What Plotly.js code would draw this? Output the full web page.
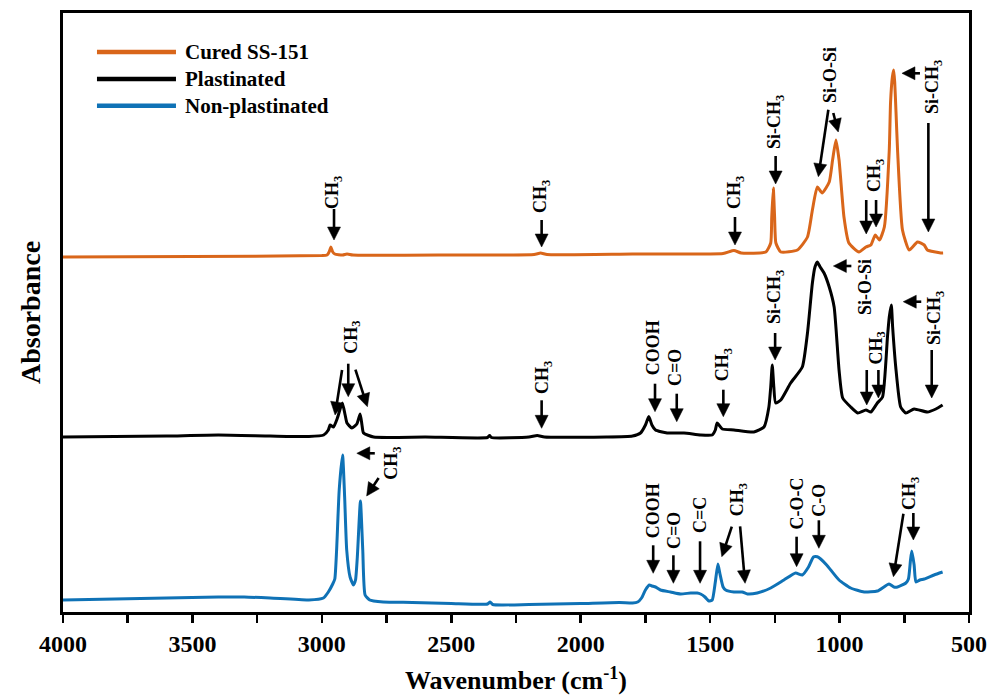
<!DOCTYPE html>
<html><head><meta charset="utf-8">
<script src="https://cdn.plot.ly/plotly-3.0.1.min.js"></script>
<style>html,body{margin:0;padding:0;background:#fff}#chart{width:988px;height:697px}</style>
</head><body><div id="chart"></div>
<script>
const seriesNames = ['Cured SS-151', 'Plastinated', 'Non-plastinated'];
const seriesColors = ['#D9661A', '#000000', '#0F72B6'];

// Cured SS-151 (orange, top)
const curedWn  = [4000,3500,3000,2980,2972,2965,2958,2950,2920,2903,2880,2500,2180,2155,2130,1800,1450,1408,1380,1285,1266,1262,1256,1251,1246,1227,1163,1124,1105,1086,1067,1040,1027,1014,1002,983,964,925,898,879,862,846,827,808,803,796,791,787,782,776,757,731,699,673,661,609,600];
const curedAbs = [3.55,3.555,3.565,3.57,3.60,3.65,3.60,3.58,3.57,3.58,3.57,3.57,3.575,3.59,3.575,3.58,3.585,3.615,3.59,3.60,3.69,3.95,4.24,3.95,3.69,3.60,3.62,3.75,4.02,4.25,4.19,4.30,4.52,4.72,4.52,3.95,3.69,3.60,3.65,3.67,3.77,3.72,3.85,4.62,5.10,5.35,5.42,5.30,5.00,4.62,3.82,3.62,3.70,3.67,3.62,3.59,3.59];

// Plastinated (black, middle)
const plastWn  = [4000,3800,3600,3400,3200,3050,2993,2975,2968,2955,2940,2921,2910,2903,2884,2865,2852,2845,2839,2800,2600,2360,2352,2345,2200,2168,2140,1900,1800,1769,1750,1737,1725,1711,1666,1601,1537,1492,1480,1473,1453,1408,1331,1292,1273,1266,1260,1254,1247,1227,1189,1144,1124,1105,1095,1086,1075,1060,1040,1021,1002,988,957,930,898,879,854,834,815,808,800,795,783,764,744,712,661,628,602];
const plastAbs = [1.75,1.755,1.76,1.77,1.76,1.755,1.77,1.82,1.87,1.85,1.94,2.09,1.97,1.89,1.84,1.88,1.98,1.87,1.79,1.75,1.75,1.745,1.765,1.745,1.75,1.765,1.75,1.75,1.76,1.79,1.87,1.955,1.87,1.82,1.79,1.79,1.77,1.77,1.82,1.89,1.83,1.82,1.80,1.85,2.05,2.25,2.47,2.25,2.09,2.12,2.29,2.45,2.79,3.29,3.45,3.50,3.45,3.39,3.25,3.05,2.42,2.14,2.05,1.99,2.02,2.00,2.09,2.15,2.75,2.95,3.07,2.85,2.45,2.05,1.99,2.03,2.00,2.03,2.07];

// Non-plastinated (blue, bottom)
const nonWn  = [4000,3800,3600,3400,3300,3200,3050,2994,2975,2958,2950,2943,2933,2920,2912,2904,2891,2878,2870,2863,2851,2842,2833,2815,2800,2763,2650,2500,2360,2350,2340,2200,2000,1850,1800,1780,1765,1750,1735,1725,1711,1692,1653,1614,1575,1550,1537,1520,1505,1492,1480,1470,1462,1450,1440,1408,1376,1356,1318,1266,1215,1170,1144,1120,1101,1086,1073,1050,1034,1002,957,905,854,809,790,776,744,734,726,721,712,705,690,673,635,602];
const nonAbs = [0.12,0.13,0.14,0.15,0.15,0.14,0.12,0.14,0.20,0.28,0.33,0.62,1.22,1.57,1.15,0.62,0.35,0.27,0.32,0.55,1.11,0.62,0.17,0.12,0.11,0.10,0.095,0.085,0.08,0.10,0.075,0.075,0.085,0.095,0.09,0.10,0.14,0.22,0.27,0.26,0.25,0.22,0.20,0.18,0.19,0.19,0.18,0.15,0.11,0.12,0.30,0.48,0.38,0.25,0.22,0.20,0.20,0.18,0.19,0.24,0.32,0.39,0.37,0.45,0.55,0.553,0.53,0.47,0.42,0.32,0.24,0.20,0.21,0.28,0.25,0.25,0.29,0.33,0.52,0.61,0.47,0.30,0.32,0.33,0.37,0.40];

const tickVals = [4000,3500,3000,2500,2000,1500,1000,500];
const tickText = ['4000','3500','3000','2500','2000','1500','1000','500'];

const serif = 'Liberation Serif, Times New Roman, serif';
const traces = [
  {x: curedWn, y: curedAbs, name: seriesNames[0], type: 'scatter', mode: 'lines', line: {color: seriesColors[0], width: 3, shape: 'spline', smoothing: 0.5}},
  {x: plastWn, y: plastAbs, name: seriesNames[1], type: 'scatter', mode: 'lines', line: {color: seriesColors[1], width: 3, shape: 'spline', smoothing: 0.5}},
  {x: nonWn, y: nonAbs, name: seriesNames[2], type: 'scatter', mode: 'lines', line: {color: seriesColors[2], width: 3, shape: 'spline', smoothing: 0.5}}
];

const labFont = {family: serif, size: 18, color: '#000', weight: 'bold'};
const annotations = [];
const shapes = [];
function lab(text, x, y) {
  annotations.push({text: text, x: x, y: y, xref: 'x', yref: 'y', textangle: -90, showarrow: false,
          xanchor: 'center', yanchor: 'middle', font: labFont});
}
// arrow whose tip is at data point (x, y); tail offset (ax, ay) in screen pixels (ay < 0 = above)
function arr(x, y, ax, ay) {
  const len = Math.hypot(ax, ay);
  const ux = -ax / len, uy = -ay / len;
  const L = 13, W = 6.5;
  const bx = -ux * L, by = -uy * L;
  const px = -uy, py = ux;
  const f = function (v) { return v.toFixed(2); };
  const sx = -ux * L * 0.6, sy = -uy * L * 0.6;
  shapes.push({type: 'path', xref: 'x', yref: 'y', xsizemode: 'pixel', ysizemode: 'pixel', xanchor: x, yanchor: y,
    path: 'M' + f(ax) + ',' + f(-ay) + ' L' + f(sx) + ',' + f(-sy),
    line: {color: '#000', width: 2.6}, layer: 'above'});
  shapes.push({type: 'path', xref: 'x', yref: 'y', xsizemode: 'pixel', ysizemode: 'pixel', xanchor: x, yanchor: y,
    path: 'M0,0 L' + f(bx + px * W) + ',' + f(-(by + py * W)) + ' L' + f(bx - px * W) + ',' + f(-(by - py * W)) + ' Z',
    fillcolor: '#000', line: {color: '#000', width: 0.5}, layer: 'above'});
}
const CH3 = 'CH<sub>3</sub>';
const SiCH3 = 'Si-CH<sub>3</sub>';

// Cured SS-151
lab(CH3, 2957, 4.20); arr(2953, 3.72, 0, -31);
lab(CH3, 2153, 4.15); arr(2151, 3.65, 0, -27);
lab(CH3, 1404, 4.20); arr(1404, 3.67, 0, -28);
lab(SiCH3, 1249, 4.90); arr(1247, 4.28, 0, -28);
lab('Si-O-Si', 1037, 5.37); arr(1082, 4.353, 10, -67); arr(1005, 4.80, -5, -19);
lab(CH3, 863, 4.36); arr(897, 3.78, 0, -34); arr(859, 3.85, 0, -27);
lab(SiCH3, 639, 5.25); arr(657, 3.80, 0, -109); arr(759, 5.387, 18, 0);
// Plastinated
lab(CH3, 2885, 2.75); arr(2949, 1.97, 7, -45); arr(2898, 2.153, 0, -33); arr(2824, 2.053, -12, -37);
lab(CH3, 2146, 2.35); arr(2151, 1.837, 0, -28);
lab('COOH', 1720, 2.64); arr(1713, 2.003, 0, -28);
lab('C=O', 1636, 2.45); arr(1629, 1.903, 0, -28);
lab(CH3, 1449, 2.47); arr(1449, 1.953, 0, -27);
lab(SiCH3, 1249, 3.15); arr(1249, 2.52, 0, -27);
lab('Si-O-Si', 902, 3.25); arr(1024, 3.46, 18, 0);
lab(CH3, 857, 2.64); arr(895, 2.07, 0, -35); arr(850, 2.14, 0, -28);
lab(SiCH3, 631, 2.94); arr(644, 2.14, 0, -48); arr(754, 3.103, 18, 0);
// Non-plastinated
lab(CH3, 2730, 1.49); arr(2865, 1.587, 18, 0); arr(2827, 1.16, 12, -18);
lab('COOH', 1720, 1.01); arr(1720, 0.387, 0, -28);
lab('C=O', 1640, 0.82); arr(1642, 0.287, 0, -28);
lab('C=C', 1539, 0.97); arr(1539, 0.287, 0, -42);
lab(CH3, 1391, 1.12); arr(1455, 0.553, 10, -30); arr(1365, 0.287, -5, -57);
lab('C-O-C', 1166, 1.08); arr(1166, 0.453, 0, -30);
lab('C-O', 1080, 1.12); arr(1080, 0.637, 0, -28);
lab(CH3, 728, 1.19); arr(792, 0.353, 10, -63); arr(715, 0.72, 0, -27);

// legend (drawn as lines + text in paper space)
const legY = [0.935, 0.890, 0.845];
seriesNames.forEach(function (n, i) {
  shapes.push({type: 'line', xref: 'paper', yref: 'paper', x0: 0.0375, x1: 0.1247, y0: legY[i], y1: legY[i],
               line: {color: seriesColors[i], width: 4.5}});
  annotations.push({text: n, xref: 'paper', yref: 'paper', x: 0.1325, y: legY[i], xanchor: 'left', yanchor: 'middle',
                    showarrow: false, font: {family: serif, size: 21, color: '#000', weight: 'bold'}});
});

const layout = {
  width: 988, height: 697,
  margin: {l: 63, r: 19, t: 13, b: 85},
  paper_bgcolor: '#fff', plot_bgcolor: '#fff',
  showlegend: false,
  xaxis: {
    range: [4000, 500], tickmode: 'array', tickvals: tickVals, ticktext: tickText,
    ticks: 'outside', ticklen: 8, tickwidth: 2.5, tickcolor: '#000',
    minor: {tickmode: 'linear', tick0: 500, dtick: 250, ticks: 'outside', ticklen: 8, tickwidth: 2.5, tickcolor: '#000', showgrid: false},
    showline: true, linewidth: 3, linecolor: '#000', mirror: true,
    showgrid: false, zeroline: false,
    tickfont: {family: serif, size: 24, color: '#000', weight: 'bold'},
    title: {text: 'Wavenumber (cm<sup>-1</sup>)', font: {family: serif, size: 26, color: '#000', weight: 'bold'}, standoff: 16}
  },
  yaxis: {
    range: [0, 5.99], showticklabels: false, ticks: '',
    showline: true, linewidth: 3, linecolor: '#000', mirror: true,
    showgrid: false, zeroline: false,
    title: {text: 'Absorbance', font: {family: serif, size: 28, color: '#000', weight: 'bold'}, standoff: 12}
  },
  annotations: annotations,
  shapes: shapes
};

Plotly.newPlot('chart', traces, layout, {displayModeBar: false, staticPlot: true});
</script>
</body></html>
